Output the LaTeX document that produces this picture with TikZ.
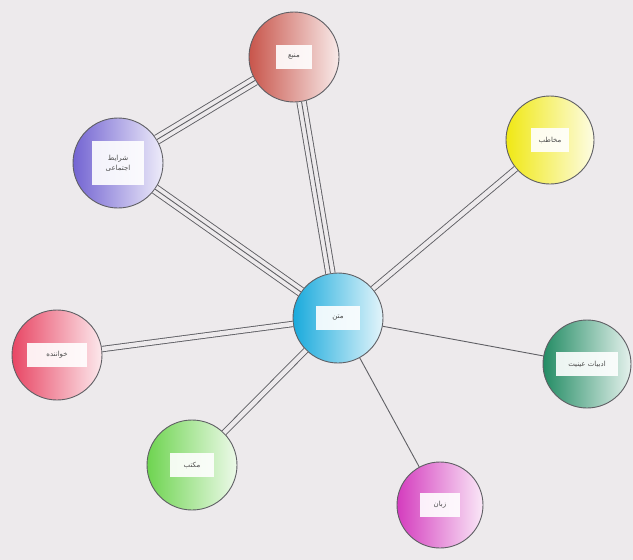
\documentclass[tikz,border=0pt]{standalone}
\usepackage{fontspec}
\newfontfamily\arabicfont[Script=Arabic]{DejaVu Sans}
\TeXXeTstate=1
\definecolor{bg}{RGB}{237,234,236}
\definecolor{cTop}{RGB}{200,85,75}
\definecolor{cPur}{RGB}{115,100,210}
\definecolor{cYel}{RGB}{240,232,20}
\definecolor{cCen}{RGB}{25,170,220}
\definecolor{cPnk}{RGB}{232,70,100}
\definecolor{cDgr}{RGB}{35,140,100}
\definecolor{cGrn}{RGB}{110,212,80}
\definecolor{cMag}{RGB}{212,60,190}
\definecolor{edge}{RGB}{95,95,100}
\tikzset{
  ball/.style={circle, minimum size=90pt, draw=edge, line width=0.9pt,
    left color=#1, middle color=#1!55!white, right color=white!88!#1},
  tbox/.style={fill=white, fill opacity=0.9, text opacity=1, text=black!70,
    font=\arabicfont\fontsize{7}{10}\selectfont, inner sep=2pt,
    minimum width=46pt, minimum height=24pt, align=center},
  single/.style={draw=edge, line width=0.9pt},
  dbl/.style={draw=edge, line width=0.9pt, double=bg, double distance=4.5pt},
  trpl/.style={draw=edge, line width=0.9pt, double=bg, double distance=8.5pt,
    postaction={draw=edge, line width=0.9pt}}
}
\begin{document}
\begin{tikzpicture}[x=1pt,y=-1pt]
\fill[bg] (0,0) rectangle (633,560);
\useasboundingbox (0,0) rectangle (633,560);

\node[ball=cTop] (top) at (294,57) {};
\node[ball=cPur] (pur) at (118,163) {};
\node[ball=cYel, minimum size=88pt] (yel) at (550,140) {};
\node[ball=cCen] (cen) at (338,318) {};
\node[ball=cPnk] (pnk) at (57,355) {};
\node[ball=cDgr, minimum size=88pt] (dgr) at (587,364) {};
\node[ball=cGrn] (grn) at (192,465) {};
\node[ball=cMag, minimum size=86pt] (mag) at (440,505) {};

\node[tbox, minimum width=36pt] (top-t) at (top) {\beginR منبع\endR};
\node[tbox, minimum width=52pt, minimum height=44pt] (pur-t) at (pur) {\beginR شرایط\endR\\\beginR اجتماعی\endR};
\node[tbox, minimum width=38pt] (yel-t) at (yel) {\beginR مخاطب\endR};
\node[tbox, minimum width=44pt] (cen-t) at (cen) {\beginR متن\endR};
\node[tbox, minimum width=60pt] (pnk-t) at (pnk) {\beginR خواننده\endR};
\node[tbox, minimum width=62pt] (dgr-t) at (dgr) {\beginR ادبیات عینیت\endR};
\node[tbox, minimum width=44pt] (grn-t) at (grn) {\beginR مکتب\endR};
\node[tbox, minimum width=40pt] (mag-t) at (mag) {\beginR زبان\endR};

\draw[trpl] (pur) -- (top);
\draw[trpl] (top) -- (cen);
\draw[trpl] (pur) -- (cen);
\draw[dbl] (yel) -- (cen);
\draw[dbl] (pnk) -- (cen);
\draw[dbl] (grn) -- (cen);
\draw[single] (dgr) -- (cen);
\draw[single] (mag) -- (cen);
\end{tikzpicture}
\end{document}
